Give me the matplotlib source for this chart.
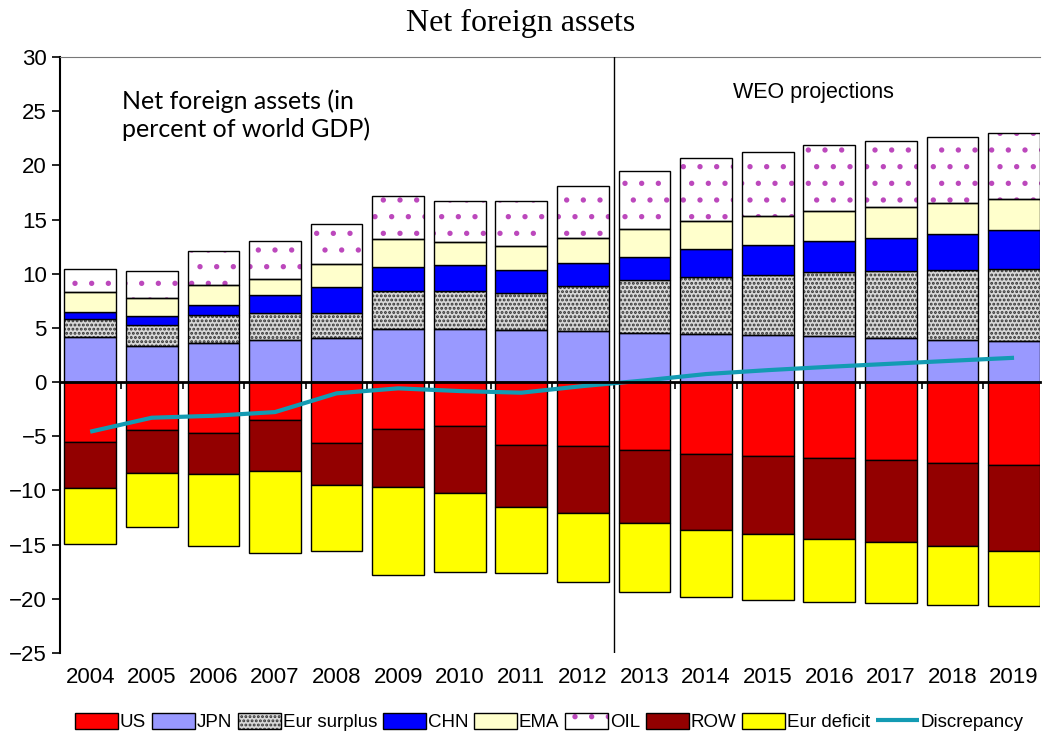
import matplotlib
matplotlib.use("Agg")

import numpy as np
import matplotlib.pyplot as plt
from matplotlib.transforms import blended_transform_factory

# -----------------------------
# Data (percent of world GDP)
# -----------------------------
years = [str(y) for y in range(2004, 2020)]

us = [-5.51, -4.46, -4.68, -3.48, -5.63, -4.34, -4.03, -5.84,
      -5.94, -6.28, -6.61, -6.80, -7.01, -7.23, -7.45, -7.63]
jpn = [4.12, 3.29, 3.60, 3.85, 4.03, 4.86, 4.86, 4.77,
       4.68, 4.55, 4.46, 4.34, 4.25, 4.03, 3.90, 3.78]
eur_surplus = [1.72, 1.99, 2.56, 2.55, 2.36, 3.53, 3.57, 3.41,
               4.15, 4.84, 5.20, 5.54, 5.88, 6.18, 6.43, 6.62]
chn = [0.62, 0.78, 0.98, 1.61, 2.34, 2.24, 2.34, 2.15,
       2.15, 2.18, 2.58, 2.77, 2.89, 3.07, 3.29, 3.63]
ema = [1.85, 1.72, 1.82, 1.48, 2.12, 2.53, 2.12, 2.21,
       2.31, 2.58, 2.64, 2.65, 2.74, 2.89, 2.86, 2.86]
oil = [2.12, 2.46, 3.17, 3.53, 3.75, 4.00, 3.81, 4.15,
       4.83, 5.32, 5.76, 5.96, 6.12, 6.06, 6.12, 6.09]
row = [-4.27, -3.97, -3.84, -4.73, -3.88, -5.35, -6.18, -5.66,
       -6.18, -6.70, -7.02, -7.26, -7.48, -7.56, -7.68, -7.94]
eur_deficit = [-5.20, -4.95, -6.58, -7.54, -6.12, -8.15, -7.35, -6.16,
               -6.37, -6.37, -6.24, -6.06, -5.84, -5.63, -5.42, -5.13]
discrepancy = [-4.58, -3.29, -3.11, -2.77, -1.04, -0.58, -0.83, -0.98,
               -0.37, 0.15, 0.74, 1.10, 1.41, 1.69, 1.97, 2.24]

positive = [
    ("JPN", jpn, "#9999FF", None, None),
    ("Eur surplus", eur_surplus, "#D8D8D8", "....", "#333333"),
    ("CHN", chn, "#0000FF", None, None),
    ("EMA", ema, "#FFFFCC", None, None),
    ("OIL", oil, "white", ".", "#BC48BC"),
]
negative = [
    ("US", us, "#FF0000"),
    ("ROW", row, "#930000"),
    ("Eur deficit", eur_deficit, "#FFFF00"),
]

plt.rcParams["font.family"] = ["Liberation Sans", "DejaVu Sans"]
plt.rcParams["hatch.linewidth"] = 1.4

fig = plt.figure(figsize=(10.42, 7.39), dpi=100)
ax = fig.add_axes([0.0576, 0.1164, 0.9404, 0.8065])

x = np.arange(len(years))
width = 0.84
handles = {}

# stacked positive bars
bottom = np.zeros(len(years))
for name, vals, color, hatch, hcolor in positive:
    vals = np.array(vals)
    if hatch:
        fill = ax.bar(x, vals, width, bottom=bottom, color=color,
                      hatch=hatch, edgecolor=hcolor, linewidth=0, zorder=2)
        edge = ax.bar(x, vals, width, bottom=bottom, fill=False,
                      edgecolor="black", linewidth=1, zorder=3)
        handles[name] = (fill, edge)
    else:
        handles[name] = ax.bar(x, vals, width, bottom=bottom, color=color,
                               edgecolor="black", linewidth=1, zorder=3)
    bottom = bottom + vals

# stacked negative bars
bottom = np.zeros(len(years))
for name, vals, color in negative:
    vals = np.array(vals)
    handles[name] = ax.bar(x, vals, width, bottom=bottom, color=color,
                           edgecolor="black", linewidth=1, zorder=3)
    bottom = bottom + vals

line, = ax.plot(x, discrepancy, color="#139BB3", linewidth=3,
                zorder=5, solid_capstyle="butt")
handles["Discrepancy"] = line

# axes
ax.set_xlim(-0.49, 15.42)
ax.set_ylim(-25, 30)
ax.set_yticks(np.arange(-25, 31, 5))
ax.tick_params(axis="y", labelsize=16, length=6, width=1.2, direction="out")

ax.spines["right"].set_visible(False)
ax.spines["top"].set_color("#777777")
ax.spines["left"].set_linewidth(1.5)
ax.spines["bottom"].set_position(("data", 0))
ax.spines["bottom"].set_linewidth(2)
ax.spines["bottom"].set_zorder(6)

ax.set_xticks(x)
ax.set_xticklabels([])
ax.tick_params(axis="x", which="major", length=0)
ax.set_xticks(x[:-1] + 0.5, minor=True)
ax.tick_params(axis="x", which="minor", length=5, width=1.2,
               direction="out")

trans = blended_transform_factory(ax.transData, ax.transAxes)
for xi, label in zip(x, years):
    ax.text(xi, -0.024, label, transform=trans, ha="center", va="top",
            fontsize=16)

# projection divider
ax.axvline(8.5, color="black", linewidth=1, zorder=4)

ax.text(0.063, 0.945, "Net foreign assets (in\npercent of world GDP)",
        transform=ax.transAxes, ha="left", va="top", fontsize=18,
        family=["Lato", "DejaVu Sans"], linespacing=1.2)
ax.text(0.687, 0.94, "WEO projections", transform=ax.transAxes,
        ha="left", va="center", fontsize=15.5)

fig.suptitle("Net foreign assets", y=0.988, fontsize=23,
             family=["Liberation Serif", "DejaVu Serif"])

order = ["US", "JPN", "Eur surplus", "CHN", "EMA", "OIL", "ROW",
         "Eur deficit", "Discrepancy"]
fig.legend([handles[k] for k in order], order, loc="center",
           bbox_to_anchor=(0.527, 0.023), ncol=9, frameon=False,
           fontsize=13.5, handlelength=2.3, handleheight=1.0,
           handletextpad=0.1, columnspacing=0.3, borderaxespad=0)

fig.savefig("out.png", dpi=100)
plt.close(fig)
